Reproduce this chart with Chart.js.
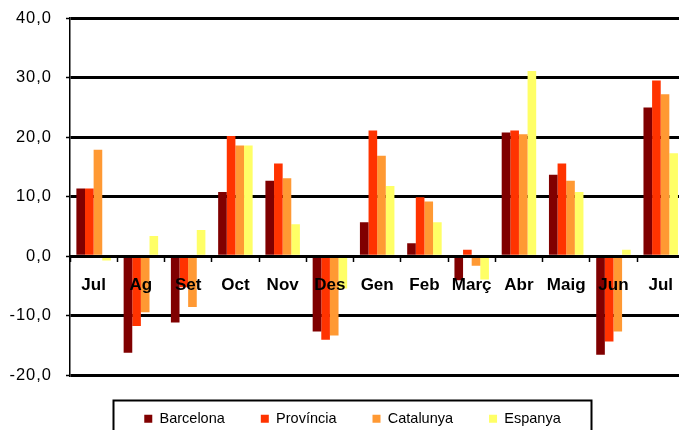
<!DOCTYPE html>
<html><head><meta charset="utf-8">
<script src="https://cdn.jsdelivr.net/npm/chart.js@4.4.1/dist/chart.umd.min.js"></script>
<style>
html,body{margin:0;padding:0;overflow:hidden;background:#fff;width:679px;height:430px}
#c{position:absolute;left:0;top:0}
</style></head><body>
<canvas id="c" width="688" height="436"></canvas>
<script>
const categories = ['Jul','Ag','Set','Oct','Nov','Des','Gen','Feb','Març','Abr','Maig','Jun','Jul'];
const seriesNames = ['Barcelona','Província','Catalunya','Espanya'];
const barcelona = [11.4,-16.2,-11.1,10.8,12.7,-12.6,5.7,2.2,-4.0,20.8,13.7,-16.5,25.0];
const provincia = [11.4,-11.7,-5.2,20.2,15.6,-14.0,21.1,9.9,1.1,21.1,15.6,-14.3,29.5];
const catalunya = [17.9,-9.4,-8.5,18.6,13.1,-13.3,16.9,9.2,-1.6,20.5,12.7,-12.6,27.2];
const espanya = [-0.7,3.4,4.4,18.6,5.4,-5.4,11.8,5.7,-3.9,31.1,10.8,1.1,17.3];
const yTicks = [-20,-10,0,10,20,30,40];
const colors = ['#800000','#FF3300','#FF9933','#FFFF66'];

Chart.defaults.font.family = "'Liberation Sans', Arial, sans-serif";
Chart.defaults.color = '#000';

const tweaks = {
  id: 'tweaks',
  afterLayout(chart) {
    const y = chart.scales.y;
    y.left = 0;
    if (!y._lsPatched) {
      const orig = y.drawLabels;
      y.drawLabels = function (area) {
        const ctx = this.ctx;
        ctx.save();
        if ('letterSpacing' in ctx) ctx.letterSpacing = '1px';
        orig.call(this, area);
        ctx.restore();
      };
      y._lsPatched = true;
    }
  },
  afterDraw(chart) {
    const lg = chart.legend;
    if (!lg || !lg.legendHitBoxes || !lg.legendHitBoxes.length) return;
    const hb = lg.legendHitBoxes;
    const first = hb[0], last = hb[hb.length - 1];
    const ctx = chart.ctx;
    ctx.save();
    ctx.strokeStyle = '#000';
    ctx.lineWidth = 2;
    const l = Math.round(first.left - 31), r = Math.round(last.left + last.width + 30), t = Math.round(first.top - 12);
    ctx.strokeRect(l + 0.5, t + 0.5, r - l, 200);
    ctx.restore();
  }
};

new Chart(document.getElementById('c'), {
  type: 'bar',
  data: {
    labels: categories,
    datasets: [
      {label: seriesNames[0], data: barcelona, backgroundColor: colors[0]},
      {label: seriesNames[1], data: provincia, backgroundColor: colors[1]},
      {label: seriesNames[2], data: catalunya, backgroundColor: colors[2]},
      {label: seriesNames[3], data: espanya, backgroundColor: colors[3]}
    ]
  },
  options: {
    responsive: false,
    animation: false,
    devicePixelRatio: 1,
    datasets: {bar: {categoryPercentage: 0.73, barPercentage: 1.0, borderWidth: 0}},
    layout: {padding: {left: 17, right: 0, top: 18, bottom: 0}},
    plugins: {
      tooltip: {enabled: false},
      legend: {
        position: 'bottom',
        labels: {boxWidth: 8, boxHeight: 8, padding: 36, color: '#000', font: {size: 14.5}}
      }
    },
    scales: {
      x: {
        type: 'category',
        position: {y: 0},
        offset: true,
        grid: {display: true, drawOnChartArea: false, drawTicks: true, tickLength: 4, tickWidth: 1.5, tickColor: '#000', offset: true},
        border: {display: true, color: '#000', width: 3, z: 1},
        ticks: {font: {size: 17, weight: 'bold'}, color: '#000', padding: 15, maxRotation: 0, autoSkip: false, z: 1}
      },
      y: {
        min: -20, max: 40,
        afterBuildTicks(scale) { scale.ticks = yTicks.map(v => ({value: v})); },
        afterFit(scale) { scale.width = 53; scale.paddingTop = 0; scale.paddingBottom = 0; },
        ticks: {
          font: {size: 16.5}, color: '#000', padding: 14,
          callback: v => v.toFixed(1).replace('.', ',')
        },
        grid: {color: '#000', lineWidth: 3, drawTicks: true, tickLength: 4, tickWidth: 1.5, tickColor: '#000'},
        border: {display: true, color: '#000', width: 1.5}
      }
    }
  },
  plugins: [tweaks]
});
</script>
</body></html>
